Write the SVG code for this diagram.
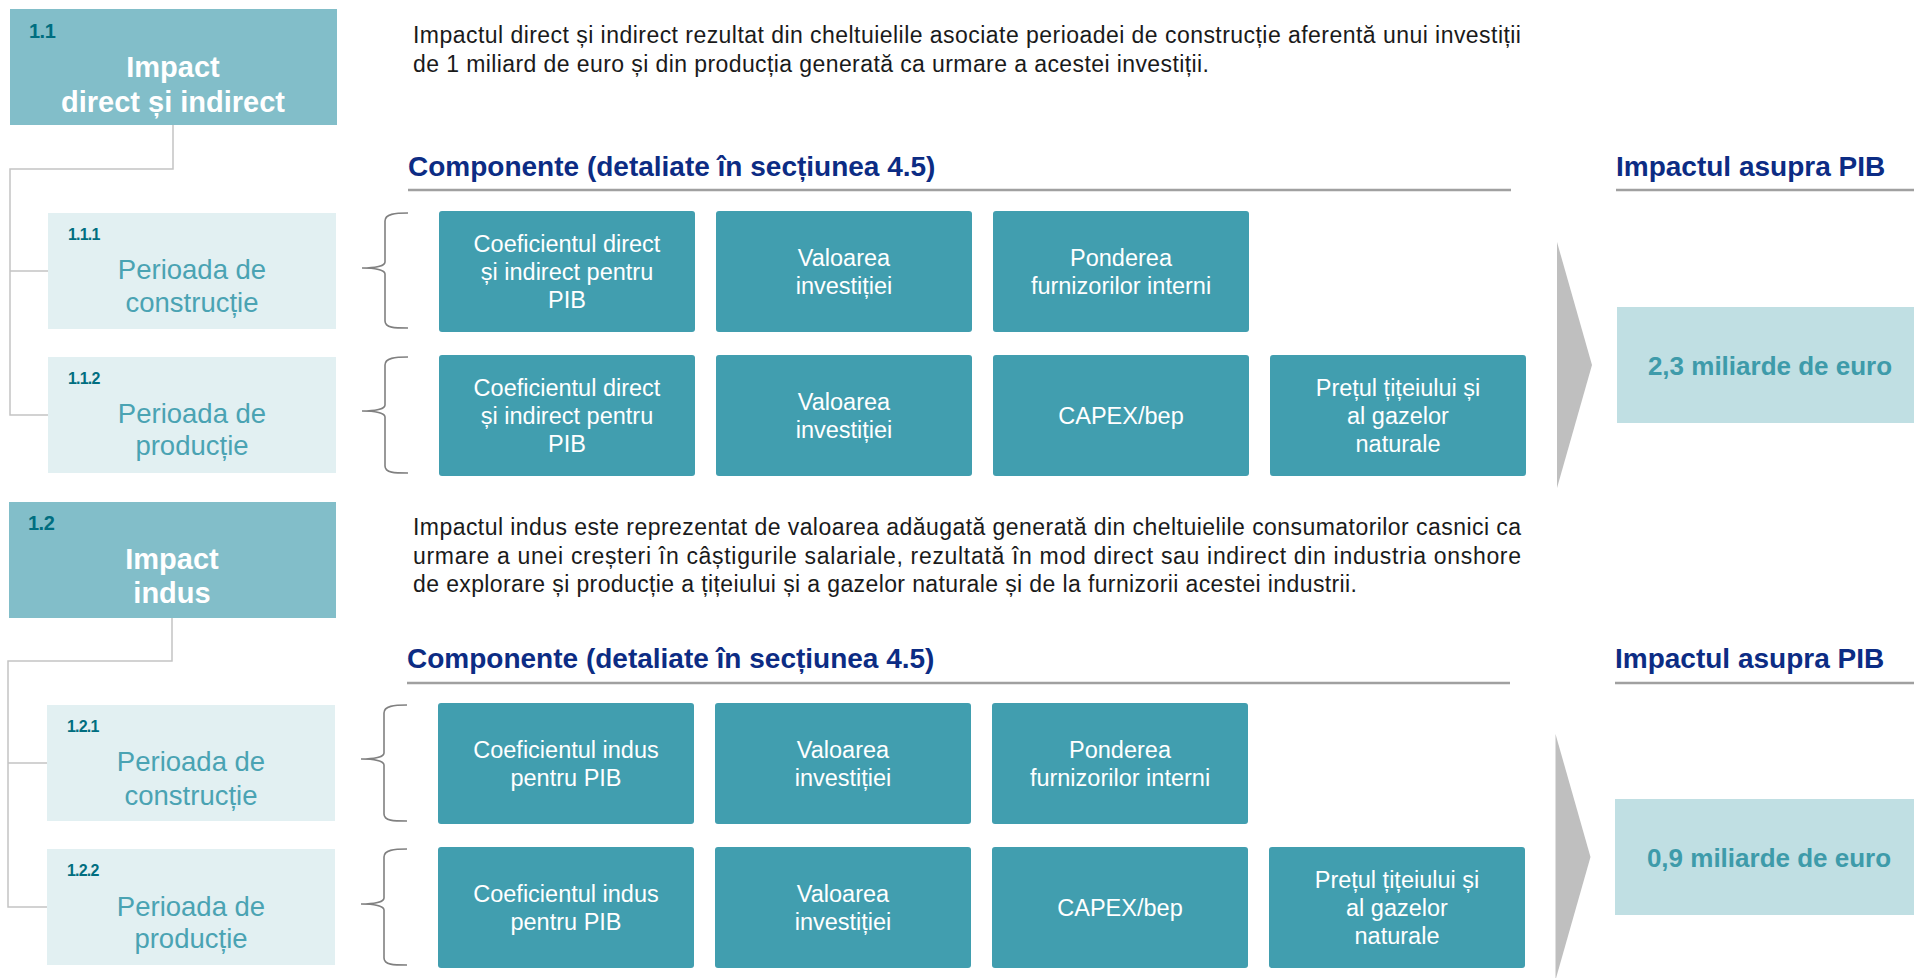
<svg xmlns="http://www.w3.org/2000/svg" width="1914" height="978" viewBox="0 0 1914 978">
<style>
text{font-family:"Liberation Sans",Arial,sans-serif}
.main{fill:#82BEC9}
.mainT{fill:#fff;font-weight:bold;font-size:29px;text-anchor:middle}
.mainL{fill:#006E80;font-weight:bold;font-size:20px;letter-spacing:-0.5px}
.per{fill:#E2F0F2}
.perT{fill:#4AA3B3;font-size:27.5px;text-anchor:middle}
.perL{fill:#006E80;font-weight:bold;font-size:16px;letter-spacing:-0.8px}
.comp{fill:#419EAF}
.compT{fill:#fff;font-size:23.5px;text-anchor:middle}
.para{fill:#1a1a1a;font-size:23px}
.head{fill:#0C2C84;font-weight:bold;font-size:28px}
.rule{stroke:#A0A0A0;stroke-width:2.5;fill:none}
.conn{stroke:#C4C4C4;stroke-width:1.5;fill:none}
.brace{stroke:#808080;stroke-width:1.6;fill:none}
.arrow{fill:#BFBFBF}
.res{fill:#C0DFE3}
.resT{fill:#3E9BAA;font-weight:bold;font-size:26px;text-anchor:middle}
</style>

<!-- Connectors -->
<g id="connectors">
<path class="conn" d="M173,125 V169 H10 V415 H48 M10,271 H48"/>
<path class="conn" d="M172,618 V661 H8 V907 H47 M8,763 H47"/>
<path class="brace" d="M408,213 C395,213 385,214 385,221 L385,262 C385,266 375,268 362,268 C375,268 385,270 385,274 L385,321 C385,328 395,328 408,328"/>
<path class="brace" d="M408,357 C395,357 385,358 385,365 L385,405 C385,409 375,411 362,411 C375,411 385,413 385,417 L385,466 C385,473 395,473 408,473"/>
<path class="brace" d="M407,705 C394,705 384,706 384,713 L384,753 C384,757 374,759 361,759 C374,759 384,761 384,765 L384,814 C384,821 394,821 407,821"/>
<path class="brace" d="M407,849 C394,849 384,850 384,857 L384,898 C384,902 374,904 361,904 C374,904 384,906 384,910 L384,958 C384,965 394,965 407,965"/>
</g>

<!-- Section 1 -->
<g id="n1_1">
<rect class="main" x="10" y="9" width="327" height="116"/>
<text class="mainL" x="29" y="38">1.1</text>
<text class="mainT" x="173" y="77">Impact</text>
<text class="mainT" x="173" y="112">direct și indirect</text>
</g>
<g id="n1_1_1">
<rect class="per" x="48" y="213" width="288" height="116"/>
<text class="perL" x="68" y="240">1.1.1</text>
<text class="perT" x="192" y="279">Perioada de</text>
<text class="perT" x="192" y="312">construcție</text>
</g>
<g id="n1_1_2">
<rect class="per" x="48" y="357" width="288" height="116"/>
<text class="perL" x="68" y="384">1.1.2</text>
<text class="perT" x="192" y="423">Perioada de</text>
<text class="perT" x="192" y="455">producție</text>
</g>
<g id="desc1">
<text class="para" x="413" y="43" textLength="1108">Impactul direct și indirect rezultat din cheltuielile asociate perioadei de construcție aferentă unui investiții</text>
<text class="para" x="413" y="72" textLength="796">de 1 miliard de euro și din producția generată ca urmare a acestei investiții.</text>
</g>
<g id="heads1">
<text class="head" x="408" y="176">Componente (detaliate în secțiunea 4.5)</text>
<line class="rule" x1="408" y1="190" x2="1511" y2="190"/>
<text class="head" x="1616" y="176">Impactul asupra PIB</text>
<line class="rule" x1="1616" y1="190" x2="1914" y2="190"/>
</g>
<g id="c1_r1_1"><rect class="comp" x="439" y="211" width="256" height="121" rx="3"/>
<text class="compT" x="567" y="251.5">Coeficientul direct</text><text class="compT" x="567" y="279.5">și indirect pentru</text><text class="compT" x="567" y="307.5">PIB</text></g>
<g id="c1_r1_2"><rect class="comp" x="716" y="211" width="256" height="121" rx="3"/>
<text class="compT" x="844" y="265.5">Valoarea</text><text class="compT" x="844" y="293.5">investiției</text></g>
<g id="c1_r1_3"><rect class="comp" x="993" y="211" width="256" height="121" rx="3"/>
<text class="compT" x="1121" y="265.5">Ponderea</text><text class="compT" x="1121" y="293.5">furnizorilor interni</text></g>
<g id="c1_r2_1"><rect class="comp" x="439" y="355" width="256" height="121" rx="3"/>
<text class="compT" x="567" y="395.5">Coeficientul direct</text><text class="compT" x="567" y="423.5">și indirect pentru</text><text class="compT" x="567" y="451.5">PIB</text></g>
<g id="c1_r2_2"><rect class="comp" x="716" y="355" width="256" height="121" rx="3"/>
<text class="compT" x="844" y="409.5">Valoarea</text><text class="compT" x="844" y="437.5">investiției</text></g>
<g id="c1_r2_3"><rect class="comp" x="993" y="355" width="256" height="121" rx="3"/>
<text class="compT" x="1121" y="423.5">CAPEX/bep</text></g>
<g id="c1_r2_4"><rect class="comp" x="1270" y="355" width="256" height="121" rx="3"/>
<text class="compT" x="1398" y="395.5">Prețul țițeiului și</text><text class="compT" x="1398" y="423.5">al gazelor</text><text class="compT" x="1398" y="451.5">naturale</text></g>
<g id="arrow1"><polygon class="arrow" points="1557,242 1592,365 1557,488"/></g>
<g id="result1"><rect class="res" x="1617" y="307" width="297" height="116"/>
<text class="resT" x="1770" y="375">2,3 miliarde de euro</text></g>

<!-- Section 2 -->
<g id="n1_2">
<rect class="main" x="9" y="502" width="327" height="116"/>
<text class="mainL" x="28" y="530">1.2</text>
<text class="mainT" x="172" y="569">Impact</text>
<text class="mainT" x="172" y="603">indus</text>
</g>
<g id="n1_2_1">
<rect class="per" x="47" y="705" width="288" height="116"/>
<text class="perL" x="67" y="732">1.2.1</text>
<text class="perT" x="191" y="771">Perioada de</text>
<text class="perT" x="191" y="805">construcție</text>
</g>
<g id="n1_2_2">
<rect class="per" x="47" y="849" width="288" height="116"/>
<text class="perL" x="67" y="876">1.2.2</text>
<text class="perT" x="191" y="916">Perioada de</text>
<text class="perT" x="191" y="948">producție</text>
</g>
<g id="desc2">
<text class="para" x="413" y="535" textLength="1108">Impactul indus este reprezentat de valoarea adăugată generată din cheltuielile consumatorilor casnici ca</text>
<text class="para" x="413" y="564" textLength="1108">urmare a unei creșteri în câștigurile salariale, rezultată în mod direct sau indirect din industria onshore</text>
<text class="para" x="413" y="592" textLength="944">de explorare și producție a țițeiului și a gazelor naturale și de la furnizorii acestei industrii.</text>
</g>
<g id="heads2">
<text class="head" x="407" y="668">Componente (detaliate în secțiunea 4.5)</text>
<line class="rule" x1="407" y1="683" x2="1510" y2="683"/>
<text class="head" x="1615" y="668">Impactul asupra PIB</text>
<line class="rule" x1="1615" y1="683" x2="1914" y2="683"/>
</g>
<g id="c2_r1_1"><rect class="comp" x="438" y="703" width="256" height="121" rx="3"/>
<text class="compT" x="566" y="757.5">Coeficientul indus</text><text class="compT" x="566" y="785.5">pentru PIB</text></g>
<g id="c2_r1_2"><rect class="comp" x="715" y="703" width="256" height="121" rx="3"/>
<text class="compT" x="843" y="757.5">Valoarea</text><text class="compT" x="843" y="785.5">investiției</text></g>
<g id="c2_r1_3"><rect class="comp" x="992" y="703" width="256" height="121" rx="3"/>
<text class="compT" x="1120" y="757.5">Ponderea</text><text class="compT" x="1120" y="785.5">furnizorilor interni</text></g>
<g id="c2_r2_1"><rect class="comp" x="438" y="847" width="256" height="121" rx="3"/>
<text class="compT" x="566" y="901.5">Coeficientul indus</text><text class="compT" x="566" y="929.5">pentru PIB</text></g>
<g id="c2_r2_2"><rect class="comp" x="715" y="847" width="256" height="121" rx="3"/>
<text class="compT" x="843" y="901.5">Valoarea</text><text class="compT" x="843" y="929.5">investiției</text></g>
<g id="c2_r2_3"><rect class="comp" x="992" y="847" width="256" height="121" rx="3"/>
<text class="compT" x="1120" y="915.5">CAPEX/bep</text></g>
<g id="c2_r2_4"><rect class="comp" x="1269" y="847" width="256" height="121" rx="3"/>
<text class="compT" x="1397" y="887.5">Prețul țițeiului și</text><text class="compT" x="1397" y="915.5">al gazelor</text><text class="compT" x="1397" y="943.5">naturale</text></g>
<g id="arrow2"><polygon class="arrow" points="1555.5,734 1590.5,857 1555.5,980"/></g>
<g id="result2"><rect class="res" x="1615" y="799" width="299" height="116"/>
<text class="resT" x="1769" y="867">0,9 miliarde de euro</text></g>
</svg>
